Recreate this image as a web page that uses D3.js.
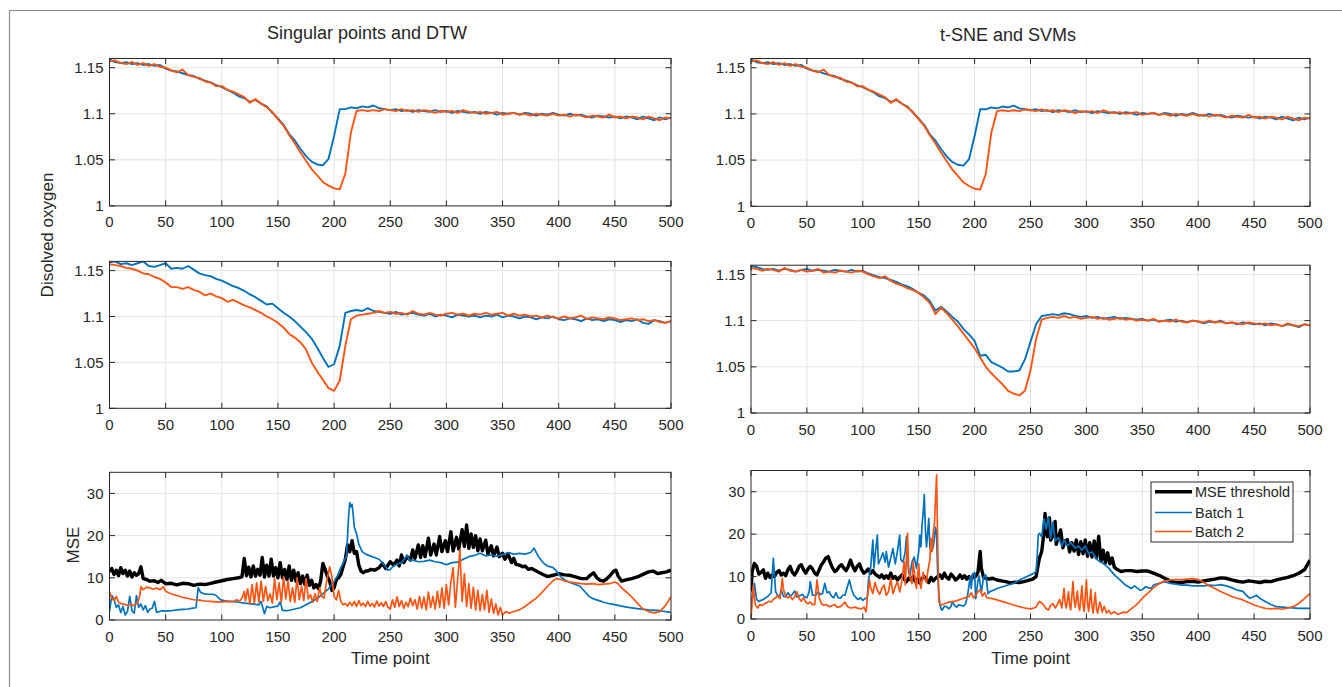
<!DOCTYPE html>
<html><head><meta charset="utf-8">
<script src="https://cdn.jsdelivr.net/npm/d3@7"></script>
<style>
html,body{margin:0;padding:0;background:#fff;}
svg{display:block;font-family:"Liberation Sans",Arial,Helvetica,sans-serif;}
</style></head>
<body><svg id="chart" width="1342" height="687"></svg>
<script>
// ---------- DATA ----------
const STEP = 5; // dissolved-oxygen series sampled every 5 time points (0..500)
const xTicks = [0,50,100,150,200,250,300,350,400,450,500];
const doTicks = [1,1.05,1.1,1.15];
const mseTicks = [0,10,20,30];
const titles = ["Singular points and DTW","t-SNE and SVMs"];
const legendLabels = ["MSE threshold","Batch 1","Batch 2"];

// top row (same batches in both columns)
const doTopBatch1 = [1.159,1.156,1.155,1.156,1.154,1.155,1.153,1.154,1.152,1.153,1.149,1.147,1.146,1.144,1.142,1.141,1.138,1.136,1.134,1.131,1.129,1.126,1.123,1.119,1.117,1.113,1.115,1.111,1.108,1.101,1.095,1.088,1.078,1.071,1.062,1.054,1.048,1.045,1.044,1.051,1.076,1.105,1.105,1.107,1.106,1.108,1.107,1.109,1.106,1.105,1.104,1.105,1.103,1.104,1.102,1.104,1.103,1.102,1.104,1.102,1.103,1.101,1.103,1.102,1.101,1.102,1.100,1.102,1.101,1.099,1.101,1.100,1.101,1.099,1.101,1.100,1.098,1.100,1.099,1.101,1.099,1.098,1.100,1.098,1.099,1.097,1.096,1.098,1.097,1.096,1.097,1.095,1.097,1.096,1.094,1.097,1.095,1.093,1.096,1.094,1.096];
const doTopBatch2 = [1.157,1.158,1.155,1.154,1.156,1.153,1.155,1.152,1.154,1.151,1.150,1.147,1.145,1.148,1.142,1.140,1.139,1.135,1.134,1.130,1.130,1.126,1.124,1.121,1.118,1.112,1.116,1.111,1.107,1.102,1.094,1.087,1.077,1.068,1.058,1.049,1.040,1.033,1.026,1.022,1.019,1.018,1.035,1.080,1.103,1.104,1.103,1.104,1.103,1.105,1.104,1.103,1.105,1.103,1.104,1.102,1.104,1.103,1.101,1.103,1.102,1.103,1.101,1.104,1.102,1.101,1.102,1.100,1.101,1.102,1.099,1.100,1.101,1.099,1.100,1.098,1.100,1.099,1.098,1.100,1.098,1.099,1.097,1.099,1.098,1.096,1.098,1.097,1.096,1.099,1.096,1.097,1.095,1.097,1.096,1.094,1.097,1.095,1.093,1.096,1.095];
// middle row, left
const doMidLBatch1 = [1.159,1.160,1.157,1.158,1.156,1.158,1.160,1.155,1.154,1.156,1.158,1.152,1.153,1.152,1.155,1.151,1.147,1.145,1.144,1.141,1.139,1.136,1.133,1.131,1.128,1.124,1.121,1.117,1.113,1.114,1.109,1.104,1.100,1.095,1.089,1.083,1.076,1.066,1.055,1.045,1.048,1.068,1.104,1.106,1.107,1.106,1.109,1.106,1.105,1.104,1.103,1.105,1.102,1.103,1.104,1.102,1.101,1.103,1.100,1.102,1.101,1.099,1.102,1.101,1.100,1.101,1.099,1.101,1.100,1.102,1.099,1.101,1.100,1.098,1.100,1.099,1.097,1.099,1.098,1.100,1.097,1.096,1.098,1.097,1.095,1.098,1.096,1.097,1.095,1.097,1.096,1.094,1.096,1.095,1.097,1.093,1.092,1.096,1.095,1.093,1.095];
const doMidLBatch2 = [1.157,1.156,1.155,1.153,1.152,1.150,1.147,1.146,1.143,1.141,1.137,1.132,1.132,1.130,1.132,1.129,1.127,1.123,1.125,1.122,1.120,1.116,1.118,1.115,1.112,1.110,1.107,1.104,1.100,1.097,1.093,1.088,1.081,1.077,1.072,1.064,1.050,1.040,1.031,1.022,1.019,1.030,1.068,1.097,1.101,1.102,1.103,1.104,1.106,1.104,1.105,1.103,1.104,1.102,1.106,1.103,1.102,1.104,1.102,1.101,1.103,1.104,1.102,1.103,1.101,1.103,1.102,1.104,1.102,1.103,1.104,1.101,1.103,1.101,1.102,1.100,1.101,1.099,1.101,1.099,1.098,1.100,1.098,1.099,1.101,1.097,1.099,1.098,1.097,1.099,1.098,1.096,1.097,1.098,1.096,1.097,1.095,1.096,1.094,1.093,1.095];
// middle row, right
const doMidRBatch1 = [1.159,1.158,1.156,1.155,1.156,1.154,1.156,1.155,1.153,1.155,1.156,1.154,1.155,1.154,1.153,1.155,1.154,1.153,1.155,1.153,1.154,1.151,1.149,1.147,1.146,1.144,1.142,1.139,1.137,1.134,1.130,1.127,1.121,1.111,1.115,1.110,1.104,1.099,1.091,1.085,1.078,1.062,1.063,1.055,1.052,1.049,1.045,1.045,1.046,1.058,1.077,1.096,1.105,1.106,1.107,1.106,1.108,1.107,1.105,1.104,1.105,1.103,1.104,1.102,1.103,1.104,1.102,1.103,1.102,1.101,1.102,1.100,1.101,1.099,1.100,1.101,1.099,1.100,1.098,1.100,1.099,1.097,1.099,1.098,1.100,1.097,1.098,1.096,1.098,1.097,1.096,1.097,1.095,1.097,1.096,1.094,1.096,1.095,1.093,1.096,1.095];
const doMidRBatch2 = [1.157,1.156,1.154,1.156,1.155,1.153,1.157,1.154,1.153,1.155,1.153,1.154,1.156,1.152,1.153,1.152,1.154,1.153,1.152,1.154,1.153,1.150,1.148,1.146,1.148,1.143,1.140,1.138,1.135,1.133,1.130,1.125,1.119,1.107,1.114,1.108,1.101,1.094,1.086,1.078,1.070,1.060,1.050,1.043,1.037,1.031,1.024,1.021,1.019,1.024,1.046,1.080,1.101,1.103,1.104,1.103,1.105,1.103,1.104,1.102,1.103,1.104,1.102,1.103,1.101,1.102,1.103,1.101,1.102,1.100,1.101,1.100,1.102,1.099,1.100,1.099,1.101,1.099,1.098,1.100,1.099,1.098,1.100,1.098,1.099,1.097,1.098,1.097,1.096,1.098,1.097,1.096,1.097,1.095,1.096,1.094,1.097,1.095,1.094,1.096,1.095];

// MSE, left column: [time point, value]
const mseLThreshold = [[0,11.4],[2,12.2],[4,10.8],[6,11.8],[8,10.5],[10,12.4],[12,11],[14,11.8],[16,10.4],[18,11.6],[20,10.2],[22,11.2],[24,10.6],[26,11],[28,12.6],[30,9.8],[33,9.6],[36,9.2],[40,9.3],[43,8.9],[46,9.4],[50,8.6],[55,8.7],[60,8.3],[65,8.7],[70,8.6],[75,8.2],[80,8.5],[85,8.4],[90,8.7],[95,9.0],[100,9.3],[105,9.6],[110,9.8],[115,10.0],[118,10.3],[120,14.6],[122,10.5],[124,12.5],[126,10.2],[128,12.8],[130,10.4],[132,12],[134,10.6],[136,14.8],[138,10.2],[140,13],[142,10.4],[144,14.4],[146,10.4],[148,12.4],[150,10],[152,13.6],[154,10],[156,12],[158,9.6],[160,12.8],[162,9.4],[164,11.8],[166,9.2],[168,11.2],[170,8.6],[172,10.4],[174,8.4],[176,10.6],[178,8.2],[180,9.4],[182,7.6],[184,8.4],[186,7.4],[188,9.2],[190,13.4],[192,12],[194,10.4],[196,9.2],[198,7],[200,7.6],[202,9.6],[204,10],[206,10.8],[208,12.6],[210,14.4],[212,17.8],[214,16.2],[216,18.8],[218,15.8],[220,16.2],[222,13],[224,11.6],[226,11.2],[228,11.6],[230,11.6],[233,12],[236,11.8],[240,12.4],[243,13.4],[246,12.2],[250,13.8],[253,13],[256,14.2],[258,12.8],[260,15.4],[262,13.6],[265,15],[268,14.2],[270,16.6],[272,14.6],[275,17.8],[277,14.8],[279,17.6],[281,15],[284,19.4],[286,15.4],[289,18],[291,15.4],[294,19.8],[296,16.2],[299,18.8],[301,16.2],[304,20.9],[306,16.4],[309,19.6],[311,16.8],[314,21.4],[316,17.4],[318,22.5],[320,17],[322,20.4],[324,17.2],[326,20],[328,16.4],[330,19.2],[332,16.4],[335,18.9],[337,15.6],[340,17.6],[342,15.2],[345,17.3],[347,15],[350,15.8],[352,14.4],[355,15.6],[358,13.6],[360,14.6],[362,13.2],[365,13],[368,12.6],[370,12.8],[373,12],[376,12.2],[380,11.6],[383,11.2],[386,10.8],[390,10.3],[395,10.6],[400,11],[405,10.7],[410,10.6],[415,10.2],[420,9.8],[425,9.8],[428,10.6],[431,11.2],[434,10],[437,9.4],[440,9.2],[443,9.8],[446,10.6],[449,11.6],[451,11.8],[453,10.4],[456,9.2],[460,9.5],[465,9.8],[470,10.2],[475,10.8],[480,11.4],[484,11.6],[488,11],[492,11.2],[496,11.4],[500,11.8]];
const mseLBatch1 = [[0,2],[2,5.8],[4,5],[6,3],[8,3.6],[10,1.8],[12,3.2],[14,1.2],[16,2],[18,5.6],[20,2.2],[22,1.6],[24,5.8],[26,3],[28,3.8],[30,2.4],[32,3.4],[34,1.8],[36,2.6],[38,2.8],[40,4.4],[42,1.8],[44,2],[47,2.2],[50,2.1],[55,2.2],[60,2.4],[65,2.5],[70,2.6],[74,2.8],[77,2.9],[79,7.7],[81,6.6],[84,6.2],[88,6.1],[92,6.1],[95,5.8],[98,5],[100,4.7],[105,4.4],[110,4.4],[115,4.2],[120,4],[125,3.9],[130,3.7],[133,3.6],[135,4.4],[138,1.5],[140,3.2],[143,2.9],[146,3.1],[150,3.3],[152,4.3],[154,2.3],[157,2.2],[160,2.3],[165,2.6],[170,2.9],[175,3.6],[180,4.3],[185,5.1],[190,6.2],[195,7.4],[200,9.1],[203,10.5],[206,12.4],[209,14],[211,15],[212,20],[213,25],[214,27.8],[215,26.8],[216,27.4],[217,25],[218,22],[220,20.4],[222,18],[225,16.2],[228,15.6],[232,15.2],[236,14.8],[240,14.4],[243,13.6],[246,12.6],[248,11.8],[250,12],[253,12.8],[256,13.2],[260,13.6],[263,14.6],[265,15.4],[267,14.2],[270,14.2],[275,13.8],[280,13.9],[285,14.2],[290,13.8],[295,13.6],[300,13.1],[305,13.6],[310,13.7],[315,14.4],[320,15],[325,15.3],[330,15.8],[335,15.2],[340,15.4],[345,15.1],[350,15.5],[355,16],[360,15.6],[365,15.8],[370,15.6],[375,16],[378,17],[382,15],[386,13.6],[390,12.8],[395,12.4],[398,11.6],[402,10.2],[406,9.4],[410,8.9],[415,8.4],[419,8],[423,6.8],[427,5.6],[431,5],[436,4.6],[440,4.2],[446,3.8],[451,3.6],[456,3.3],[462,3],[470,2.7],[480,2.4],[490,2.2],[500,1.8]];
const mseLBatch2 = [[0,6.7],[2,5.2],[4,4.6],[6,5.6],[8,4.2],[10,3.9],[13,3.7],[16,3.5],[19,3.8],[22,3.4],[25,4.1],[27,5.8],[28,7.9],[30,7.2],[33,7.8],[36,7.6],[39,7.3],[42,7.6],[45,7.2],[48,7.9],[50,6.8],[53,6.4],[56,6.1],[60,5.8],[65,5.4],[70,5.1],[75,4.8],[80,4.7],[85,4.5],[90,4.4],[95,4.3],[100,4.3],[105,4.4],[110,4.3],[113,4.8],[116,4.5],[118,5.2],[120,6.8],[121,4.5],[123,7.4],[125,3.8],[127,8.4],[129,4],[131,8.8],[133,4.2],[135,9.2],[137,4.4],[139,8],[141,4.6],[143,6.2],[145,4],[147,9.8],[149,4.8],[151,8.8],[153,4.2],[155,10.2],[157,5],[159,9.2],[161,4.4],[163,7.6],[165,4.2],[167,10],[169,4.8],[171,8],[173,4.6],[175,9.8],[177,5],[179,6],[181,4.2],[183,6.2],[185,4.4],[187,7.6],[189,5.6],[191,5.2],[193,8.6],[195,11.2],[196,12.6],[198,10.4],[200,5.6],[202,4.8],[204,7],[206,4.4],[208,3.6],[210,3.9],[212,3.3],[214,4.2],[216,3.4],[218,4.4],[220,3.2],[222,4.6],[224,3.4],[226,4],[228,3.2],[230,4.4],[232,3.3],[234,3.9],[236,3.1],[238,4.5],[240,3.3],[242,4.1],[244,3.2],[246,4.4],[248,3],[250,2.6],[252,4.8],[254,3],[256,5.5],[258,3.2],[260,4.6],[262,2.8],[264,4.2],[266,3.2],[268,5.2],[270,3.4],[272,4.8],[274,2.6],[276,5.6],[278,2.8],[280,5.4],[282,2.4],[284,6.6],[286,3],[288,5.6],[290,2.6],[292,6.8],[294,3],[296,7.6],[298,2.8],[300,8.4],[302,3.6],[304,9],[306,12.4],[308,3],[310,9.6],[312,16.6],[314,4.4],[316,11],[318,3.2],[320,8.6],[322,2.8],[324,7.8],[326,2.4],[328,7],[330,2.2],[332,6],[334,2.4],[336,7],[338,1.8],[340,5],[342,1.6],[344,3.8],[346,1.2],[348,3],[350,1.2],[353,2],[356,1.6],[360,2],[365,2.4],[370,3.2],[375,4.2],[380,5.2],[385,6.5],[390,8],[395,9.3],[398,9.8],[402,9.6],[406,9.2],[410,9],[415,8.8],[420,8.6],[425,8.5],[430,8.6],[435,8.4],[440,8.5],[445,8.6],[450,9],[453,8.6],[456,7.6],[460,6.7],[465,5.5],[470,4],[475,2.6],[480,2],[485,1.7],[490,2],[495,3.4],[500,5.5]];

// MSE, right column: [time point, value]
const mseRThreshold = [[0,6.5],[1,11.2],[3,13.1],[5,12.4],[7,10.6],[9,11],[11,11.6],[13,9.6],[15,10.8],[17,9.8],[19,10.4],[21,10],[23,11],[25,11.4],[27,10.4],[29,10.8],[31,10.2],[33,11.6],[35,12.4],[37,11],[39,10.4],[41,11.2],[43,12.4],[45,12.8],[47,11.6],[49,10.8],[51,11.8],[53,12.4],[55,11.8],[57,10.8],[59,10.4],[61,11.6],[63,12.8],[65,13.5],[67,14.4],[69,14.7],[71,13.2],[73,12],[75,11.2],[77,11.6],[79,12.4],[81,12.8],[83,12],[85,11.4],[87,12.4],[89,13.9],[91,12.4],[93,11.4],[95,12.4],[97,13],[99,11.6],[101,10.8],[103,11.2],[105,11.8],[107,10.8],[109,11.4],[111,10.6],[113,10.2],[115,9.8],[117,10.4],[119,9.6],[121,10.2],[123,9.6],[125,10.8],[127,9.6],[129,10],[131,9.2],[133,9.8],[135,10.4],[137,9.4],[139,8.8],[141,9.6],[143,9.2],[145,10],[147,8.8],[149,9.4],[151,8.5],[153,9.6],[155,10],[157,9.2],[159,8.6],[161,9.8],[163,9],[165,9.6],[167,10],[169,10.4],[171,9.6],[173,10.8],[175,9.8],[177,9.4],[179,10.6],[181,10],[183,9.2],[185,9.6],[187,10.4],[189,9.6],[191,10.2],[193,9.4],[195,10],[197,9.2],[199,10.4],[201,10],[203,11],[205,15.9],[206,12],[208,9.8],[210,9.6],[213,9.4],[216,9.6],[220,9.2],[224,9],[228,8.8],[232,8.5],[236,8.7],[240,8.6],[244,8.8],[248,9.1],[252,9.4],[255,10],[257,13],[258,14.3],[260,15.9],[261,18],[262,20.5],[263,24.9],[264,21],[265,19.4],[266,21.5],[267,23.8],[268,18.6],[270,19.6],[272,23],[273,17.6],[275,19.4],[277,21],[279,16.8],[281,18.4],[283,18.7],[285,15.8],[287,18],[289,16],[291,18.6],[293,15.2],[295,18.2],[297,15.4],[299,18.6],[301,14.8],[303,18],[305,14.6],[307,18.4],[309,14.4],[311,19.5],[313,13.6],[315,16.2],[317,13.2],[319,15.6],[321,13],[323,14.4],[325,12.2],[328,11.6],[331,11.2],[335,11.4],[340,11.4],[345,11.2],[350,11.3],[355,11.3],[360,10.8],[365,10.3],[370,9.6],[375,9],[380,8.6],[385,8.6],[390,8.8],[395,8.9],[400,8.7],[405,9],[410,9.2],[415,9.4],[420,9.7],[425,9.6],[430,9.2],[435,8.9],[440,8.7],[445,9],[450,8.8],[455,8.6],[460,8.9],[465,8.8],[470,9.2],[475,9.5],[480,9.8],[485,10.2],[490,10.8],[495,11.6],[500,13.9]];
const mseRBatch1 = [[0,1.7],[1,5],[3,8.4],[5,4.6],[7,4.1],[9,4.4],[11,4.6],[13,5],[15,5.3],[18,6.2],[20,14.3],[22,6.5],[24,5.4],[26,5.6],[27,6.9],[29,5.4],[31,5.2],[33,6.2],[35,5.4],[37,5.8],[39,6.6],[41,5.2],[43,5.4],[46,5.8],[48,5.2],[50,5],[52,6.4],[53,8.8],[55,5.6],[58,5.6],[60,6.4],[62,5.8],[64,6],[66,8.4],[68,6.2],[70,6.4],[72,5.4],[74,5],[76,6.2],[78,5],[80,4.9],[82,5.6],[84,5.6],[86,7.4],[88,9.2],[90,7],[92,5.6],[94,5],[96,4.6],[98,5],[100,4.4],[102,4.8],[104,5],[105,9],[107,12],[109,18.6],[110,12],[111,15],[113,19.8],[114,13],[116,14.2],[118,15.6],[120,13.4],[121,15.9],[123,12.2],[125,14.4],[127,16.6],[129,13],[131,16],[133,19.8],[134,14],[136,13.4],[138,16],[139,19.4],[141,11],[142,10.2],[144,13.4],[146,14.6],[148,12],[150,16],[151,19.8],[152,17],[153,22.2],[154,25],[155,29.3],[156,21],[157,17],[158,20],[159,23.7],[160,17],[161,15.8],[163,17],[164,19],[165,21.6],[166,20],[167,10.4],[168,6],[169,3.3],[170,2.4],[171,2.1],[173,3],[175,2.9],[177,2.4],[179,3],[180,4.1],[182,3.2],[184,2.8],[186,3.4],[188,3.2],[190,3],[192,3.6],[194,6],[196,10],[197,7.2],[198,10.4],[200,11],[201,4.8],[203,9],[204,10.2],[206,6.2],[208,9.8],[210,10.4],[212,6],[214,6.5],[217,6.8],[220,7.2],[225,7.6],[230,8],[235,8.4],[240,9.2],[245,9.8],[250,10.4],[253,10.8],[255,11.2],[256,15],[257,19.8],[258,20.2],[260,19.4],[262,23.6],[264,21.2],[266,24.1],[268,19],[270,22.8],[272,18.4],[275,19.2],[278,17.2],[280,18.7],[283,17.2],[286,18],[290,16.7],[293,17.2],[296,16.2],[299,17.2],[302,15.4],[305,15.8],[308,14.6],[310,13.9],[315,13.1],[320,12],[325,10.4],[330,9.2],[335,8],[340,7.2],[343,7.8],[345,7.4],[348,6.8],[350,6.9],[353,7.6],[355,7.4],[358,7.2],[360,8],[365,8.4],[370,8.8],[375,8.4],[380,8.2],[385,8],[390,8],[395,7.8],[400,7.8],[405,7.8],[410,8],[415,7.9],[420,8.1],[425,7.8],[430,7.4],[435,6.8],[440,6.5],[443,5.6],[446,4.9],[449,5.2],[452,5.6],[455,4.9],[458,4.4],[460,4.1],[465,3.4],[470,2.9],[475,2.8],[480,2.7],[485,2.6],[490,2.5],[495,2.5],[500,2.5]];
const mseRBatch2 = [[0,0.2],[1,4],[2,8],[3,5],[4,3.3],[6,2.6],[8,3.4],[10,3.2],[12,3.6],[14,3.8],[16,4.2],[18,4],[20,4.6],[22,5],[24,5.4],[26,4.8],[28,9.6],[29,7],[31,5.4],[33,5],[35,5.4],[37,4.6],[39,5.2],[41,6.4],[43,4.8],[45,4.2],[47,5],[49,4],[51,3.6],[53,4],[55,3.4],[57,3.4],[59,9.2],[61,5],[63,3.6],[65,3.2],[67,3.4],[70,2.9],[73,3.2],[75,3.4],[77,2.8],[80,2.9],[82,3.4],[84,4],[86,3],[88,2.7],[90,2.6],[93,2.8],[96,2.5],[99,2.4],[101,2.8],[103,1.7],[104,5],[105,7],[106,9.2],[107,7.4],[109,6],[111,8.6],[113,6.8],[115,5.8],[117,7.2],[119,8],[121,5.6],[123,6.4],[125,9.6],[127,6],[129,7.6],[131,8.8],[133,6.4],[135,9],[137,13.5],[138,8],[140,20.2],[141,12],[142,10],[144,8.4],[145,13.5],[147,9],[148,7.2],[150,13],[151,9],[152,7.2],[154,11],[155,9.8],[157,8.6],[158,11],[160,14],[161,19],[162,16],[163,20.6],[164,22.2],[165,28],[166,34],[167,18],[168,4.1],[170,3.3],[173,3.6],[176,3.9],[180,4.1],[183,4.2],[186,4.5],[190,4.9],[193,5.1],[195,5.3],[197,6.2],[199,5],[201,5.6],[203,6.4],[205,6.9],[207,5.4],[209,6.2],[211,5],[213,4.9],[216,4.8],[220,4.5],[225,4.1],[230,3.7],[235,3.3],[240,2.9],[245,2.6],[250,2.4],[253,2.6],[255,2.8],[257,3.8],[258,4.1],[260,3.8],[262,3.2],[264,2.4],[266,2.1],[268,3.2],[270,3.6],[272,2.6],[274,3.4],[276,4.6],[278,2.6],[280,7.2],[281,3.8],[282,2.6],[284,6.4],[285,3.2],[286,2.2],[288,8.8],[289,4.6],[290,2.8],[292,6.6],[293,3],[294,2.1],[296,7.8],[297,3.2],[298,1.8],[300,9.2],[301,4],[302,1.8],[304,7],[305,3],[306,1.4],[308,6.2],[309,2.4],[310,1.4],[312,4],[313,3.2],[314,1.6],[316,3],[318,1.4],[320,2],[322,1.2],[325,1.7],[328,1.1],[330,1.3],[333,1.6],[336,1.5],[340,2.4],[345,3.4],[350,4.9],[355,6.1],[360,7.4],[365,8.3],[370,9],[375,9.2],[380,9.3],[385,9.3],[390,9.4],[395,9.5],[400,9.3],[405,8.6],[410,7.8],[415,7.2],[420,6.5],[425,5.9],[430,5.3],[435,4.9],[440,4.5],[445,3.9],[450,3.3],[455,2.9],[460,2.5],[465,2.4],[470,2.5],[475,2.3],[480,2.6],[485,2.9],[490,3.7],[495,4.8],[500,6]];

// ---------- DRAWING ----------
const BLUE = "#0072BD", ORANGE = "#FF5311", BLACK = "#000000";
const AX = "#262626", GRID = "#e3e3e3";
const svg = d3.select("#chart");
const stepped = arr => arr.map((v,i)=>[i*STEP, v]);

// figure frame
svg.append("path").attr("d","M9.5,687 V10.5 H1342").attr("fill","none").attr("stroke","#8a8a8a").attr("stroke-width",1.2);

const cols = [{x0:109.5,x1:671},{x0:751,x1:1310}];
const DOW = 1.9, MW = 1.7, TW = 3.4;
const panels = [
  {col:0, y0:58.5, y1:205.9, dom:[1,1.16], ticks:doTicks, series:[[doTopBatch1,BLUE,DOW],[doTopBatch2,ORANGE,DOW]].map(s=>[stepped(s[0]),s[1],s[2]])},
  {col:1, y0:58.5, y1:206.3, dom:[1,1.16], ticks:doTicks, series:[[doTopBatch1,BLUE,DOW],[doTopBatch2,ORANGE,DOW]].map(s=>[stepped(s[0]),s[1],s[2]])},
  {col:0, y0:261.4, y1:408.3, dom:[1,1.16], ticks:doTicks, series:[[doMidLBatch1,BLUE,DOW],[doMidLBatch2,ORANGE,DOW]].map(s=>[stepped(s[0]),s[1],s[2]])},
  {col:1, y0:265.2, y1:413, dom:[1,1.16], ticks:doTicks, series:[[doMidRBatch1,BLUE,DOW],[doMidRBatch2,ORANGE,DOW]].map(s=>[stepped(s[0]),s[1],s[2]])},
  {col:0, y0:472.3, y1:620, dom:[0,35], ticks:mseTicks, series:[[mseLThreshold,BLACK,TW],[mseLBatch1,BLUE,MW],[mseLBatch2,ORANGE,MW]], xlabel:true},
  {col:1, y0:470.5, y1:619, dom:[0,35], ticks:mseTicks, series:[[mseRThreshold,BLACK,TW],[mseRBatch1,BLUE,MW],[mseRBatch2,ORANGE,MW]], xlabel:true, legend:true}
];

const fmt = d => String(+d.toFixed(2));

panels.forEach((p,pi)=>{
  const c = cols[p.col];
  const x = d3.scaleLinear().domain([0,500]).range([c.x0,c.x1]);
  const y = d3.scaleLinear().domain(p.dom).range([p.y1,p.y0]);
  const g = svg.append("g");
  const clipId = "clip"+pi;
  svg.append("clipPath").attr("id",clipId).append("rect")
    .attr("x",c.x0).attr("y",p.y0).attr("width",c.x1-c.x0).attr("height",p.y1-p.y0);
  g.selectAll(".gx").data(xTicks.slice(1,-1)).join("line")
    .attr("x1",d=>x(d)).attr("x2",d=>x(d)).attr("y1",p.y0).attr("y2",p.y1)
    .attr("stroke",GRID).attr("stroke-width",1);
  g.selectAll(".gy").data(p.ticks.filter(t=>t>p.dom[0])).join("line")
    .attr("x1",c.x0).attr("x2",c.x1).attr("y1",d=>y(d)).attr("y2",d=>y(d))
    .attr("stroke",GRID).attr("stroke-width",1);
  const line = d3.line().x(d=>x(d[0])).y(d=>y(d[1]));
  const lg = g.append("g").attr("clip-path",`url(#${clipId})`);
  p.series.forEach(s=>{
    lg.append("path").datum(s[0]).attr("d",line).attr("fill","none")
      .attr("stroke",s[1]).attr("stroke-width",s[2]).attr("stroke-linejoin","round");
  });
  g.append("rect").attr("x",c.x0).attr("y",p.y0).attr("width",c.x1-c.x0).attr("height",p.y1-p.y0)
    .attr("fill","none").attr("stroke",AX).attr("stroke-width",1);
  const TL = 5.5;
  xTicks.forEach(t=>{
    g.append("line").attr("x1",x(t)).attr("x2",x(t)).attr("y1",p.y1).attr("y2",p.y1-TL).attr("stroke",AX);
    g.append("line").attr("x1",x(t)).attr("x2",x(t)).attr("y1",p.y0).attr("y2",p.y0+TL).attr("stroke",AX);
  });
  p.ticks.forEach(t=>{
    g.append("line").attr("x1",c.x0).attr("x2",c.x0+TL).attr("y1",y(t)).attr("y2",y(t)).attr("stroke",AX);
    g.append("line").attr("x1",c.x1).attr("x2",c.x1-TL).attr("y1",y(t)).attr("y2",y(t)).attr("stroke",AX);
  });
  g.selectAll(".xl").data(xTicks).join("text")
    .attr("x",d=>x(d)).attr("y",p.y1+21.5).attr("text-anchor","middle")
    .attr("font-size",15).attr("fill",AX).text(d=>d);
  g.selectAll(".yl").data(p.ticks).join("text")
    .attr("x",c.x0-6).attr("y",d=>y(d)).attr("dy","0.35em").attr("text-anchor","end")
    .attr("font-size",15).attr("fill",AX).text(fmt);
  if(p.xlabel){
    g.append("text").attr("x",(c.x0+c.x1)/2).attr("y",664).attr("text-anchor","middle")
      .attr("font-size",17).attr("fill",AX).text("Time point");
  }
  if(p.legend){
    const lx=1151, ly=482, lw=142, lh=60;
    const lgd = g.append("g");
    lgd.append("rect").attr("x",lx).attr("y",ly).attr("width",lw).attr("height",lh)
      .attr("fill","#fff").attr("stroke",AX).attr("stroke-width",1);
    const rows = [[legendLabels[0],BLACK,TW,491.7],[legendLabels[1],BLUE,MW,512.5],[legendLabels[2],ORANGE,MW,531.5]];
    rows.forEach(r=>{
      lgd.append("line").attr("x1",1155).attr("x2",1192).attr("y1",r[3]).attr("y2",r[3])
        .attr("stroke",r[1]).attr("stroke-width",r[2]);
      lgd.append("text").attr("x",1195).attr("y",r[3]).attr("dy","0.35em")
        .attr("font-size",14.5).attr("fill",AX).text(r[0]);
    });
  }
});

svg.append("text").attr("x",367).attr("y",38.5).attr("text-anchor","middle").attr("font-size",18).attr("fill",AX).text(titles[0]);
svg.append("text").attr("x",1008).attr("y",41).attr("text-anchor","middle").attr("font-size",18).attr("fill",AX).text(titles[1]);
svg.append("text").attr("transform","translate(53,235) rotate(-90)").attr("text-anchor","middle").attr("font-size",17).attr("fill",AX).text("Disolved oxygen");
svg.append("text").attr("transform","translate(79,545) rotate(-90)").attr("text-anchor","middle").attr("font-size",17).attr("fill",AX).text("MSE");
</script></body></html>
